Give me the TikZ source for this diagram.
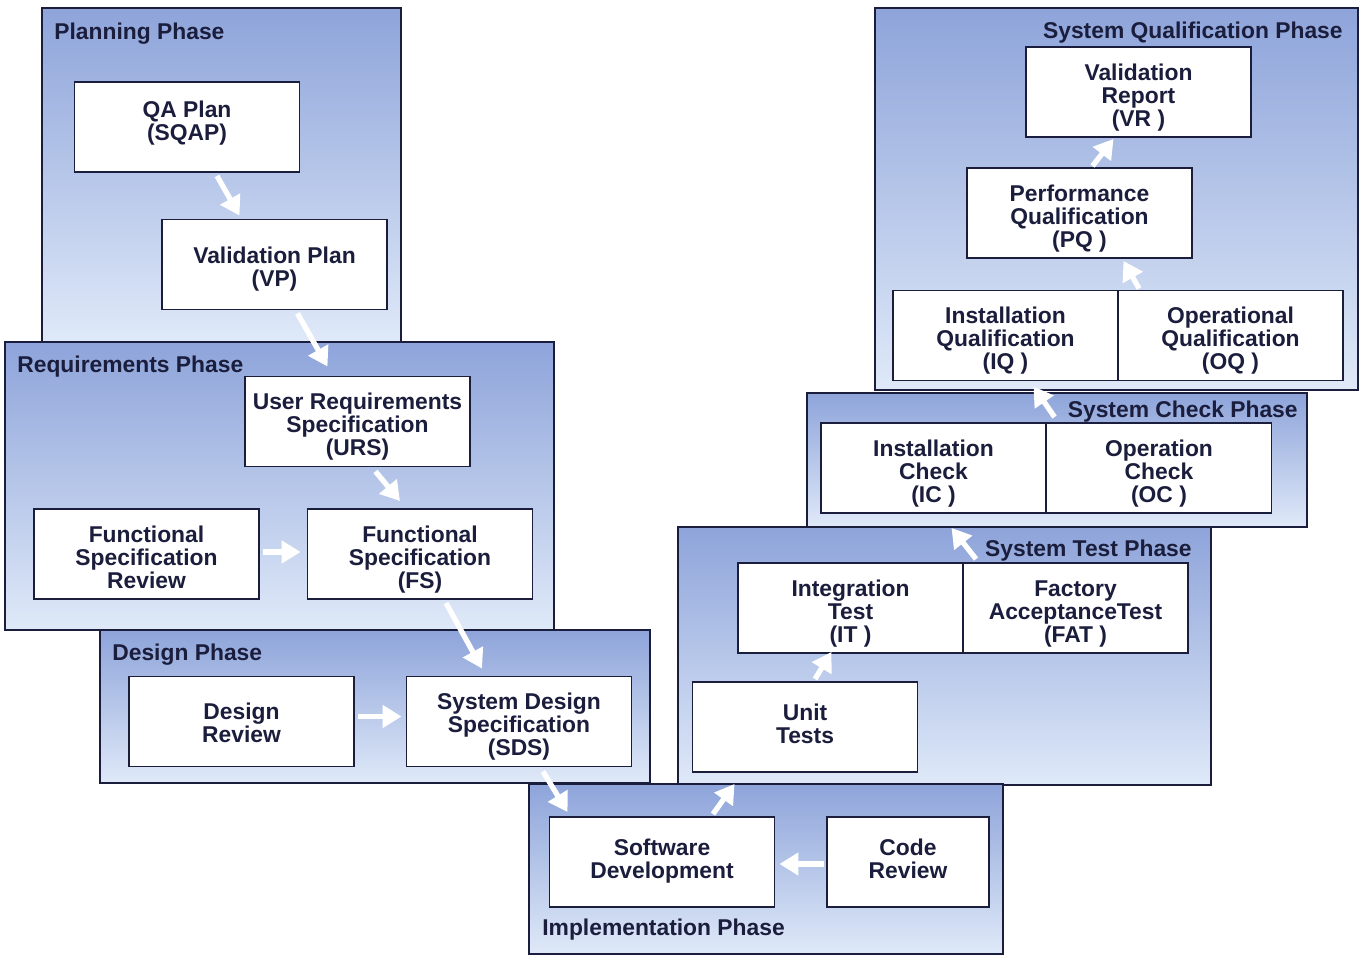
\documentclass[tikz,border=0pt]{standalone}
\usepackage{fontspec}
\setmainfont{Liberation Sans}
\usepackage{tikz}
\usetikzlibrary{arrows.meta,calc}
\definecolor{encre}{HTML}{1B1D3C}
\definecolor{phasehaut}{HTML}{8EA4DA}
\definecolor{phasebas}{HTML}{DFE9F8}

\begin{document}
\begin{tikzpicture}[x=0.02cm,y=-0.02cm,
    phase/.style={draw=encre,line width=1.1pt,top color=phasehaut,bottom color=phasebas},
    boite/.style={draw=encre,line width=1.1pt,fill=white,minimum width=4.5cm,minimum height=1.8cm,
      align=center,inner sep=0pt,text=encre,font=\bfseries\fontsize{13}{13.1}\selectfont,
      text depth=0pt},
    deux/.style={text height=18.7pt},
    trois/.style={text height=39.2pt},
    titre/.style={inner sep=0pt,text=encre,font=\bfseries\fontsize{13}{13.1}\selectfont},
    fleche/.style={white,line width=3pt,-{Triangle[width=0.44cm,length=0.38cm]}}]
  \fill[white] (0,0) rectangle (1363,959);
  \useasboundingbox (0,0) rectangle (1363,959);

  % PANNEAUX DES PHASES
  \draw[phase] (42,8) rectangle (401,342);
  \draw[phase] (5,342) rectangle (554,630);
  \draw[phase] (100,630) rectangle (650,783);
  \draw[phase] (678,527) rectangle (1211,785);
  \draw[phase] (807,393) rectangle (1307,527);
  \draw[phase] (875,8) rectangle (1358,390);
  \draw[phase] (529,784) rectangle (1003,954);

  \node[titre,anchor=base west] (tplan) at (54,40) {Planning Phase};
  \node[titre,anchor=base west] (treq) at (17,373) {Requirements Phase};
  \node[titre,anchor=base west] (tdes) at (112,660) {Design Phase};
  \node[titre,anchor=base west] (timp) at (542,935) {Implementation Phase};
  \node[titre,anchor=base east] (ttest) at (1192,557) {System Test Phase};
  \node[titre,anchor=base east] (tcheck) at (1298,418) {System Check Phase};
  \node[titre,anchor=base east] (tqual) at (1343,39) {System Qualification Phase};

  % BOITES
  \node[boite,text height=15.9pt] (qa) at (187,127) {QA Plan\\(SQAP)};
  \node[boite,text height=24.9pt] (vp) at (274.5,264.5) {Validation Plan\\(VP)};
  \node[boite,trois] (urs) at (357.5,421.5) {User Requirements\\Specification\\(URS)};
  \node[boite,trois] (fsr) at (146.5,554) {Functional\\Specification\\Review};
  \node[boite,trois] (fs) at (420,554) {Functional\\Specification\\(FS)};
  \node[boite,text height=23.8pt] (dr) at (241.5,721.5) {Design\\Review};
  \node[boite,trois] (sds) at (519,721.5) {System Design\\Specification\\(SDS)};
  \node[boite,deux] (sd) at (662,862) {Software\\Development};
  \node[boite,deux,minimum width=3.24cm] (cr) at (908,862) {Code\\Review};
  \node[boite,deux] (ut) at (805,727) {Unit\\Tests};
  \node[boite,trois] (it) at (850.5,608) {Integration\\Test\\(IT )};
  \node[boite,trois] (fat) at (1075.5,608) {Factory\\AcceptanceTest\\(FAT )};
  \node[boite,trois] (ic) at (933.5,468) {Installation\\Check\\(IC )};
  \node[boite,trois] (oc) at (1159,468) {Operation\\Check\\(OC )};
  \node[boite,trois] (iq) at (1005.5,335.5) {Installation\\Qualification\\(IQ )};
  \node[boite,trois] (oq) at (1230.5,335.5) {Operational\\Qualification\\(OQ )};
  \node[boite,trois] (pq) at (1079.5,213) {Performance\\Qualification\\(PQ )};
  \node[boite,trois] (vr) at (1138.5,92) {Validation\\Report\\(VR )};

  % FLECHES
  \draw[fleche] ($(qa.south)+(30,3)$) -- ($(vp.north)+(-35,-3)$);
  \draw[fleche] ($(vp.south)+(23,3)$) -- ($(urs.north)+(-30,-9)$);
  \draw[fleche] ($(urs.south)+(18,4)$) -- ($(fs.north)+(-20,-7)$);
  \draw[fleche] ($(fsr.east)+(3,-2)$) -- ($(fs.west)+(-6,-2)$);
  \draw[fleche] ($(fs.south)+(26,3)$) -- ($(sds.north)+(-37,-7)$);
  \draw[fleche] ($(dr.east)+(3,-5)$) -- ($(sds.west)+(-4,-5)$);
  \draw[fleche] ($(sds.south)+(24,4)$) -- ($(sd.north west)+(19,-4)$);
  \draw[fleche] ($(sd.north)+(51,-2)$) -- ($(ut.south west)+(43,11)$);
  \draw[fleche] ($(cr.west)+(-2,2)$) -- ($(sd.east)+(4,2)$);
  \draw[fleche] ($(ut.north)+(10,-2)$) -- ($(it.south)+(-19,-2)$);
  \draw[fleche] ($(fat.north west)+(14,-3)$) -- ($(ic.south)+(18,14)$);
  \draw[fleche] ($(oc.north west)+(9,-5)$) -- ($(iq.south)+(28,5)$);
  \draw[fleche] ($(oq.north west)+(22,-1)$) -- ($(pq.south)+(44,2)$);
  \draw[fleche] ($(pq.north)+(13,-1)$) -- ($(vr.south)+(-25,1)$);
\end{tikzpicture}
\end{document}
